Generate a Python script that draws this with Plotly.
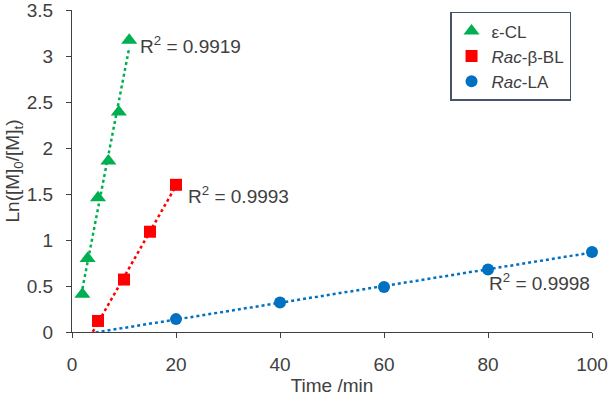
import numpy as np
import plotly.graph_objects as go

# Data
cl_t = [2, 3, 5, 7, 9, 11]
cl_y = [0.41, 0.80, 1.46, 1.86, 2.39, 3.17]
bbl_t = [5, 10, 15, 20]
bbl_y = [0.12, 0.57, 1.09, 1.60]
la_t = [20, 40, 60, 80, 100]
la_y = [0.14, 0.32, 0.49, 0.68, 0.87]
r2_labels = ["0.9919", "0.9993", "0.9998"]
x_ticks = [0, 20, 40, 60, 80, 100]
y_ticks = [0, 0.5, 1, 1.5, 2, 2.5, 3, 3.5]

GREEN = "#00B050"
RED = "#FF0000"
BLUE = "#0070C0"
TXT = "#404040"
FONT = "Liberation Sans"


def trend(xs, ys, x0, x1):
    k, b = np.polyfit(xs, ys, 1)
    xx = np.array([x0, x1], dtype=float)
    return xx, k * xx + b


fig = go.Figure()

series = [
    ("ε-CL", cl_t, cl_y, GREEN, "triangle-up", 14, min(cl_t)),
    ("<i>Rac</i>-β-BL", bbl_t, bbl_y, RED, "square", 12, 0),
    ("<i>Rac</i>-LA", la_t, la_y, BLUE, "circle", 12, 0),
]

for name, xs, ys, col, sym, sz, xstart in series:
    tx, ty = trend(xs, ys, xstart, max(xs))
    fig.add_trace(go.Scatter(x=tx, y=ty, mode="lines",
                             line=dict(color=col, width=2.5, dash="dot"),
                             showlegend=False, hoverinfo="skip"))

for name, xs, ys, col, sym, sz, xstart in series:
    fig.add_trace(go.Scatter(x=xs, y=ys, mode="markers", name=name,
                             marker=dict(color=col, symbol=sym, size=sz),
                             cliponaxis=False))

annots = [
    (12.6, 3.12, r2_labels[0]),
    (22.0, 1.49, r2_labels[1]),
    (79.8, 0.54, r2_labels[2]),
]
for ax, ay, lab in annots:
    fig.add_annotation(x=ax, y=ay, xref="x", yref="y", xanchor="left",
                       yanchor="middle", showarrow=False,
                       text="R<sup>2</sup> = " + lab,
                       font=dict(family=FONT, size=19, color=TXT))

fig.update_layout(
    width=608, height=398,
    margin=dict(l=72, r=16, t=10, b=66),
    paper_bgcolor="white", plot_bgcolor="white",
    font=dict(family=FONT, size=19, color=TXT),
    legend=dict(x=0.727, y=0.994, xanchor="left", yanchor="top",
                bordercolor="#44546A", borderwidth=1.5,
                font=dict(family=FONT, size=17, color=TXT),
                tracegroupgap=0, itemwidth=30,
                bgcolor="white"),
    xaxis=dict(range=[0, 100], tickvals=x_ticks, showgrid=False,
               zeroline=False, showline=True, linecolor="#404040",
               linewidth=1.2, ticks="outside", ticklen=5,
               tickcolor="#404040", tickfont=dict(size=19),
               ticklabelstandoff=10, automargin=False,
               ticklabeloverflow="allow",
               title=dict(text="Time /min", font=dict(size=19), standoff=4)),
    yaxis=dict(range=[0, 3.5], tickvals=y_ticks, showgrid=False,
               zeroline=False, showline=True, linecolor="#404040",
               linewidth=1.2, ticks="outside", ticklen=5,
               tickcolor="#404040", tickfont=dict(size=19),
               ticklabelstandoff=9, automargin=False,
               ticklabeloverflow="allow",
               title=dict(text="Ln([M]<sub>0</sub>/[M]<sub>t</sub>)",
                          font=dict(size=19), standoff=2)),
)

fig.write_html("out.html")
